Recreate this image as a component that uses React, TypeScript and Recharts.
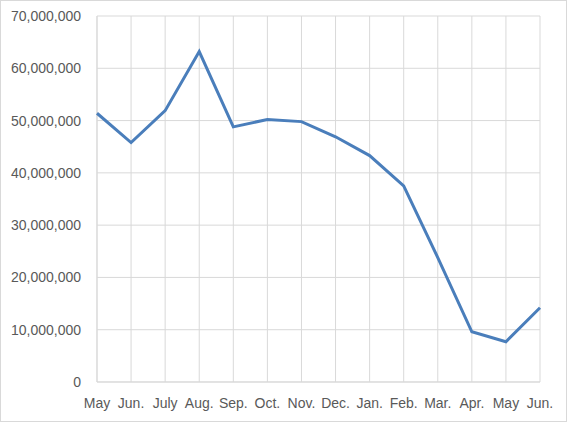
import React from 'react';
import { LineChart, Line, XAxis, YAxis, CartesianGrid } from 'recharts';

const months = ['May', 'Jun.', 'July', 'Aug.', 'Sep.', 'Oct.', 'Nov.', 'Dec.', 'Jan.', 'Feb.', 'Mar.', 'Apr.', 'May', 'Jun.'];
const values = [51400000, 45800000, 51900000, 63200000, 48800000, 50200000, 49800000, 46900000, 43300000, 37500000, 23800000, 9600000, 7700000, 14200000];
const yTicks = [0, 10000000, 20000000, 30000000, 40000000, 50000000, 60000000, 70000000];

const data = months.map((m, i) => ({ month: m, value: values[i] }));

const font = '"Liberation Sans", Arial, sans-serif';
const textColor = '#595959';
const gridColor = '#d9d9d9';

export default function App() {
  return (
    <div style={{ position: 'relative', width: 567, height: 422 }}>
      <style>{`body{margin:0}`}</style>
      <div style={{ position: 'absolute', left: 0, top: 0, width: 565, height: 420, border: `1px solid ${gridColor}` }} />
      <LineChart
        width={567}
        height={422}
        data={data}
        margin={{ top: 16, right: 27, bottom: 0, left: 0 }}
        style={{ fontFamily: font }}
      >
        <CartesianGrid stroke={gridColor} strokeWidth={1} vertical={true} horizontal={true} />
        <XAxis
          dataKey="month"
          interval={0}
          height={40}
          tickLine={false}
          tickSize={0}
          tickMargin={16}
          axisLine={{ stroke: gridColor }}
          tick={{ fill: textColor, fontSize: 14, fontFamily: font }}
          allowDuplicatedCategory={true}
        />
        <YAxis
          domain={[0, 70000000]}
          ticks={yTicks}
          width={97}
          axisLine={false}
          tickLine={false}
          tickSize={0}
          tickMargin={16}
          tickFormatter={(v: number) => v.toLocaleString('en-US')}
          tick={{ fill: textColor, fontSize: 14, fontFamily: font }}
        />
        <Line
          type="linear"
          dataKey="value"
          stroke="#4A7EBB"
          strokeWidth={3}
          dot={false}
          isAnimationActive={false}
        />
      </LineChart>
    </div>
  );
}
